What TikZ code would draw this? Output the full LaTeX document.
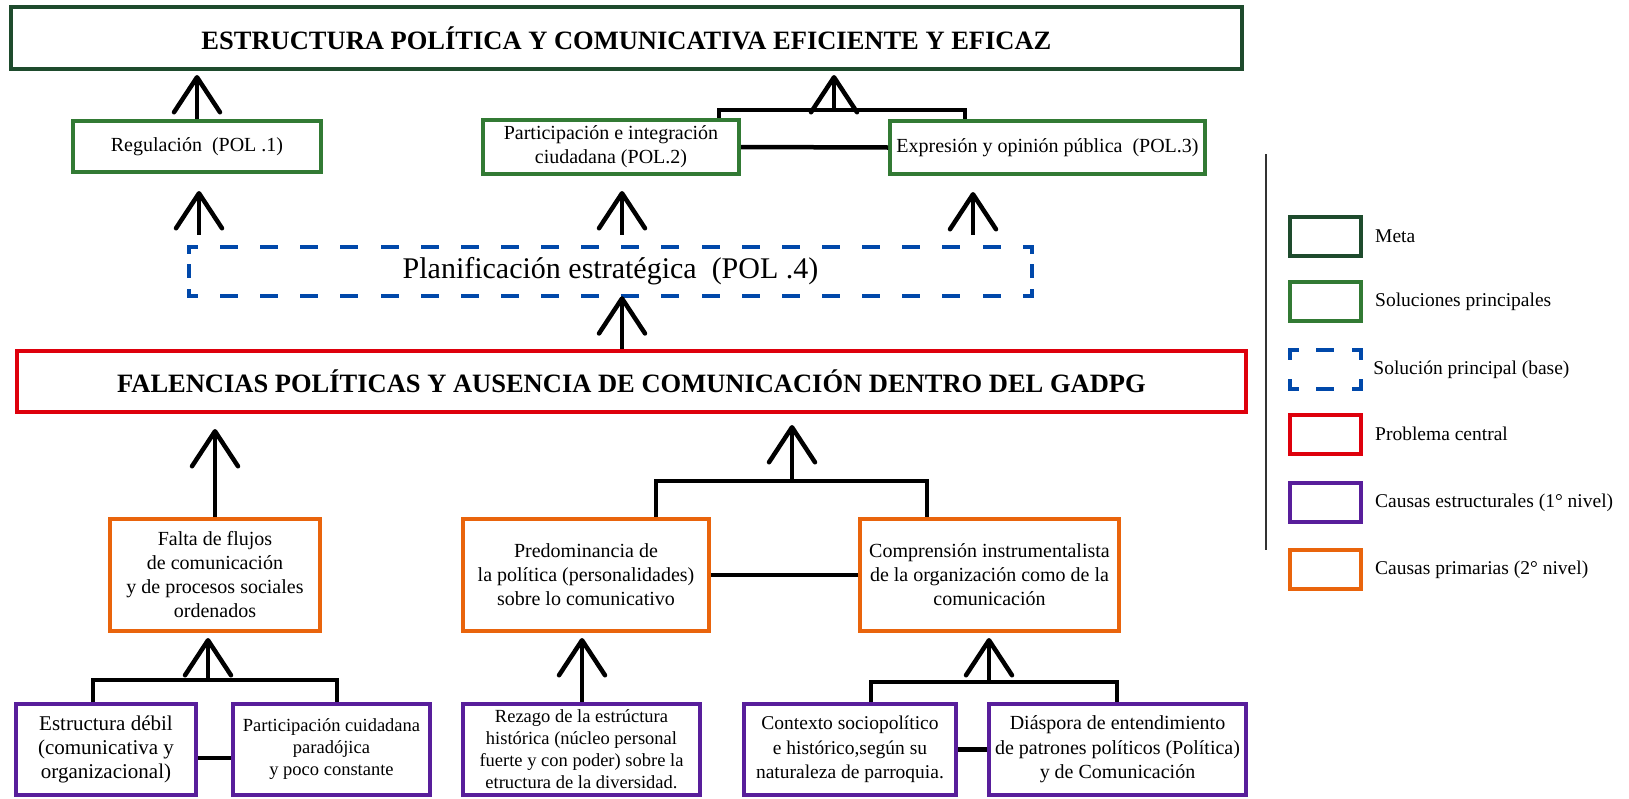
\documentclass[tikz,border=0pt]{standalone}
\usepackage{fontspec}
\setmainfont{Liberation Serif}
\usetikzlibrary{arrows.meta}
\definecolor{metagreen}{RGB}{30,75,45}
\definecolor{solgreen}{RGB}{50,122,52}
\definecolor{baseblue}{RGB}{0,72,170}
\definecolor{probred}{RGB}{222,0,12}
\definecolor{causepurple}{RGB}{88,30,155}
\definecolor{causeorange}{RGB}{233,100,12}
\newcommand\setfs[2]{\fontsize{#1}{#2}\selectfont}
% dashed frame drawn side by side: node, colour, horizontal on/off/phase, vertical on/off/phase
\newcommand\dashframe[8]{%
  \draw[draw=#2, line width=4pt, line cap=rect, dash pattern=on #3 off #4, dash phase=#5]
    (#1.north west) -- (#1.north east);
  \draw[draw=#2, line width=4pt, line cap=rect, dash pattern=on #3 off #4, dash phase=#5]
    (#1.south west) -- (#1.south east);
  \draw[draw=#2, line width=4pt, line cap=rect, dash pattern=on #6 off #7, dash phase=#8]
    (#1.north west) -- (#1.south west);
  \draw[draw=#2, line width=4pt, line cap=rect, dash pattern=on #6 off #7, dash phase=#8]
    (#1.north east) -- (#1.south east);
}
\begin{document}
\begin{tikzpicture}[x=1pt, y=-1pt,
  box/.style={draw=#1, line width=4pt, inner sep=0pt, align=center},
  arr/.style={line width=4.5pt, -{Straight Barb[length=35pt,width=46pt,round]}},
  conn/.style={line width=4.5pt, line join=miter},
  legtext/.style={anchor=west, inner sep=0pt, font=\setfs{19.5}{23}}]
\useasboundingbox (0,0) rectangle (1629,798);
\clip (0,0) rectangle (1629,798);

% goal
\node[box=metagreen, minimum width=1231pt, minimum height=62pt, font=\bfseries\setfs{26.5}{30}] (meta) at (626.5,38)
  {ESTRUCTURA POLÍTICA Y COMUNICATIVA EFICIENTE Y EFICAZ};

% main solutions
\node[box=solgreen, minimum width=248pt, minimum height=51pt, font=\setfs{20}{24}] (reg) at (197,146.5)
  {Regulación\ \ (POL .1)};
\node[box=solgreen, minimum width=256pt, minimum height=54pt, font=\setfs{20}{24}] (partic) at (611,147)
  {Participación e integración\\ciudadana (POL.2)};
\node[box=solgreen, minimum width=315pt, minimum height=53pt, font=\setfs{20}{24}] (expres) at (1047.5,147.5)
  {Expresión y opinión pública\ \ (POL.3)};

% base solution
\node[minimum width=843pt, minimum height=49pt, inner sep=0pt, font=\setfs{30}{36}] (plan) at (610.5,271.5)
  {Planificación estratégica\ \ (POL .4)};
\dashframe{plan}{baseblue}{14pt}{26.14pt}{7pt}{10pt}{14.5pt}{5pt}

% central problem
\node[box=probred, minimum width=1229pt, minimum height=61pt, font=\bfseries\setfs{26.5}{30}] (prob) at (631.5,381.5)
  {FALENCIAS POLÍTICAS Y AUSENCIA DE COMUNICACIÓN DENTRO DEL GADPG};

% primary causes
\node[box=causeorange, minimum width=210pt, minimum height=112pt, font=\setfs{20}{24}] (falta) at (215,575)
  {Falta de flujos\\de comunicación\\y de procesos sociales\\ordenados};
\node[box=causeorange, minimum width=246pt, minimum height=112pt, font=\setfs{20}{24}] (predom) at (586,575)
  {Predominancia de\\la política (personalidades)\\sobre lo comunicativo};
\node[box=causeorange, minimum width=259pt, minimum height=112pt, font=\setfs{20}{24}] (compr) at (989.5,575)
  {Comprensión instrumentalista\\de la organización como de la\\comunicación};

% structural causes
\node[box=causepurple, minimum width=180pt, minimum height=91pt, font=\setfs{21}{24}] (estr) at (106,749.5)
  {Estructura débil\\(comunicativa y\\organizacional)};
\node[box=causepurple, minimum width=197pt, minimum height=91pt, font=\setfs{18.5}{22}] (pcuid) at (331.5,749.5)
  {Participación cuidadana\\paradójica\\y poco constante};
\node[box=causepurple, minimum width=237pt, minimum height=91pt, font=\setfs{18.5}{22}] (rezago) at (581.5,749.5)
  {Rezago de la estrúctura\\histórica (núcleo personal\\fuerte y con poder) sobre la\\etructura de la diversidad.};
\node[box=causepurple, minimum width=212pt, minimum height=91pt, font=\setfs{19.5}{24.5}] (contexto) at (850,749.5)
  {Contexto sociopolítico\\e histórico,según su\\naturaleza de parroquia.};
\node[box=causepurple, minimum width=257pt, minimum height=91pt, font=\setfs{20}{24.5}] (diasp) at (1117.5,749.5)
  {Diáspora de entendimiento\\de patrones políticos (Política)\\y de Comunicación};

% junction points and arrow columns
\coordinate (jtopL) at (719,110);
\coordinate (jtopR) at (965,110);
\coordinate (jtop) at (834,110);
\coordinate (xa) at (199,0);
\coordinate (xb) at (622,0);
\coordinate (xc) at (973,0);
\coordinate (jfL) at (93,680);
\coordinate (jfR) at (337,680);
\coordinate (jf) at (208,680);
\coordinate (jmL) at (656,481);
\coordinate (jmR) at (927,481);
\coordinate (jm) at (792,481);
\coordinate (xr) at (582,0);
\coordinate (jrL) at (871,682);
\coordinate (jrR) at (1117,682);
\coordinate (jr) at (989,682);
\coordinate (hy) at (0,758);

% solutions to goal
\draw[arr, shorten >=4pt] (reg.north) -- (meta.south -| reg.north);
\draw[conn] (partic.north -| jtopL) -- (jtopL) -- (jtopR) -- (expres.north -| jtopR);
\draw[arr, shorten >=4pt] (jtop) -- (meta.south -| jtop);
\draw[conn] (partic.east) -- (expres.west);

% base solution to main solutions
\draw[arr, shorten <=12pt, shorten >=17pt] (plan.north -| xa) -- (reg.south -| xa);
\draw[arr, shorten <=12pt, shorten >=15pt] (plan.north -| xb) -- (partic.south -| xb);
\draw[arr, shorten <=12pt, shorten >=16pt] (plan.north -| xc) -- (expres.south -| xc);
\draw[arr] (prob.north -| xb) -- (plan.south -| xb);

% primary causes to problem
\draw[arr, shorten >=15pt] (falta.north) -- (prob.south -| falta.north);
\draw[conn] (predom.north -| jmL) -- (jmL) -- (jmR) -- (compr.north -| jmR);
\draw[arr, shorten >=11pt] (jm) -- (prob.south -| jm);
\draw[conn] (predom.east) -- (compr.west);

% structural causes to primary causes
\draw[conn] (estr.north -| jfL) -- (jfL) -- (jfR) -- (pcuid.north -| jfR);
\draw[arr, shorten >=5pt] (jf) -- (falta.south -| jf);
\draw[conn] (estr.east |- hy) -- (pcuid.west |- hy);
\draw[arr, shorten >=5pt] (rezago.north -| xr) -- (predom.south -| xr);
\draw[conn] (contexto.north -| jrL) -- (jrL) -- (jrR) -- (diasp.north -| jrR);
\draw[arr, shorten >=5pt] (jr) -- (compr.south -| jr);
\draw[conn] (contexto.east) -- (diasp.west);

% legend
\draw[line width=1.8pt, black!80] (1266,154) -- (1266,550);
\node[box=metagreen, minimum width=71pt, minimum height=39pt] (lg1) at (1325.5,236) {};
\node[legtext] (lt1) at ([xshift=12pt]lg1.east) {Meta};
\node[box=solgreen, minimum width=71pt, minimum height=39pt] (lg2) at (1325.5,301.5) {};
\node[legtext] (lt2) at ([xshift=12pt]lg2.east) {Soluciones principales};
\node[minimum width=71pt, minimum height=39pt, inner sep=0pt] (lg3) at (1325.5,369.5) {};
\dashframe{lg3}{baseblue}{14pt}{21.5pt}{7pt}{16pt}{23pt}{8pt}
\node[legtext] (lt3) at ([xshift=12pt]lg3.east) {Solución principal (base)};
\node[box=probred, minimum width=71pt, minimum height=39pt] (lg4) at (1325.5,434) {};
\node[legtext] (lt4) at ([xshift=12pt]lg4.east) {Problema central};
\node[box=causepurple, minimum width=71pt, minimum height=39pt] (lg5) at (1325.5,502.5) {};
\node[legtext] (lt5) at ([xshift=12pt]lg5.east) {Causas estructurales (1° nivel)};
\node[box=causeorange, minimum width=71pt, minimum height=39pt] (lg6) at (1325.5,569.5) {};
\node[legtext] (lt6) at ([xshift=12pt]lg6.east) {Causas primarias (2° nivel)};
\end{tikzpicture}
\end{document}
